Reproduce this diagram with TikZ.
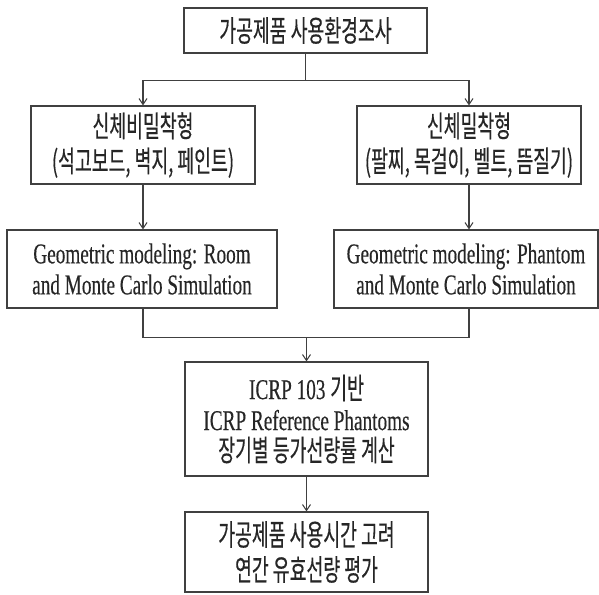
\documentclass[tikz,border=0pt]{standalone}
\usepackage{fontspec}
\setmainfont{Liberation Serif}[FakeStretch=0.67, FakeBold=0.3]
\newfontfamily\krfam{Noto Sans CJK KR}[FakeStretch=0.62, FakeBold=0.4]
\newcommand\kr{\krfam\fontsize{29.5}{35}\selectfont}
\usetikzlibrary{arrows.meta}
\definecolor{lncol}{gray}{0.25}
\definecolor{txcol}{gray}{0.15}
\tikzset{
  boxnode/.style={draw=lncol, line width=1.2pt, inner sep=0pt, align=center,
    text=txcol, font=\fontsize{28.7}{31}\selectfont},
  conn/.style={draw=lncol, line width=1.2pt},
  arr/.style={conn, -{Straight Barb[length=6pt,width=8pt,line width=1pt]}}
}
\begin{document}
\begin{tikzpicture}[x=1pt,y=-1pt]
\useasboundingbox (0,0) rectangle (599,594);
\node[boxnode, minimum width=243pt, minimum height=45pt, font=\kr] (top) at (305.5,30.5) {가공제품 사용환경조사};
\node[boxnode, minimum width=224pt, minimum height=78pt, font=\kr] (L2) at (143,145) {신체비밀착형\\(석고보드, 벽지, 페인트)};
\node[boxnode, minimum width=224pt, minimum height=78pt, font=\kr] (R2) at (469,145) {신체밀착형\\(팔찌, 목걸이, 벨트, 뜸질기)};
\node[boxnode, minimum width=270pt, minimum height=78pt] (L3) at (142,269) {Geometric modeling: Room\\and Monte Carlo Simulation};
\node[boxnode, minimum width=264pt, minimum height=78pt] (R3) at (466,269) {Geometric modeling: Phantom\\and Monte Carlo Simulation};
\node[boxnode, minimum width=243pt, minimum height=114pt] (B4) at (306.5,419) {ICRP 103 {\kr 기반}\\ICRP Reference Phantoms\\{\kr 장기별 등가선량률 계산}};
\node[boxnode, minimum width=243pt, minimum height=80pt, font=\kr] (B5) at (306.5,552) {가공제품 사용시간 고려\\연간 유효선량 평가};
% connectors
\draw[conn] (top.south) -- ++(0,27) coordinate (s1);
\draw[arr] (s1) -| (L2.north);
\draw[arr] (s1) -| (R2.north);
\draw[arr] (L2.south) -- (L2.south |- L3.north);
\draw[arr] (R2.south) -- (R2.south |- R3.north);
\draw[conn] (L2.south |- L3.south) -- ++(0,29) coordinate (m1) -| (R2.south |- R3.south);
\draw[arr] (m1 -| B4.north) -- (B4.north);
\draw[arr] (B4.south) -- (B5.north);
\end{tikzpicture}
\end{document}
